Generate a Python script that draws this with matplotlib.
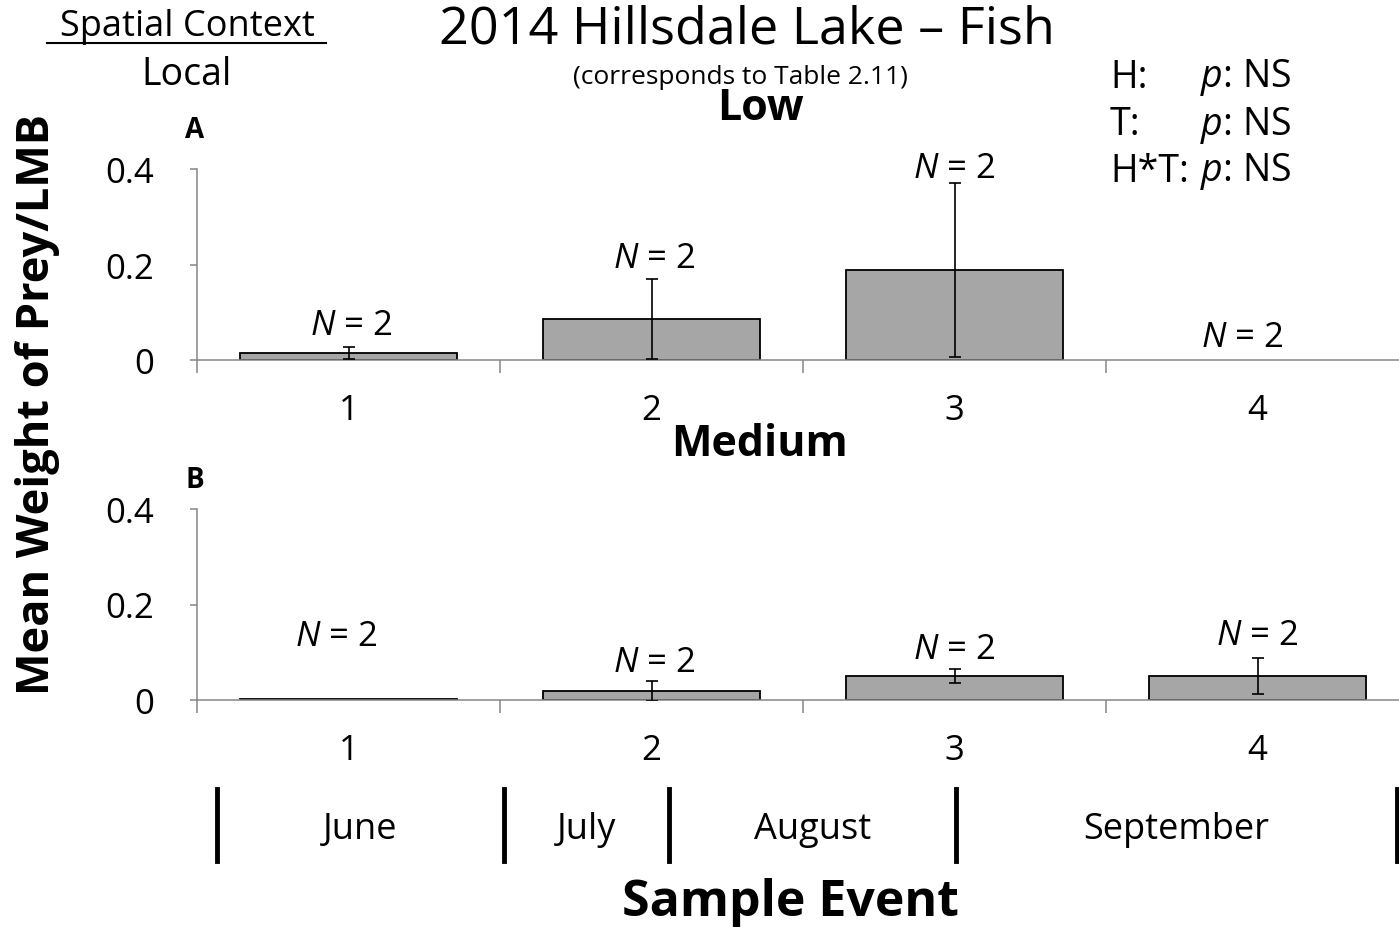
import matplotlib
matplotlib.use('Agg')
import matplotlib.pyplot as plt
from matplotlib.lines import Line2D

plt.rcParams['font.family'] = ['Open Sans', 'DejaVu Sans']
plt.rcParams['mathtext.fontset'] = 'custom'
plt.rcParams['mathtext.rm'] = 'Open Sans'
plt.rcParams['mathtext.it'] = 'Open Sans:italic'

# data
events = [1, 2, 3, 4]
low_mean = [0.015, 0.086, 0.188, 0.0]
low_err = [0.012, 0.084, 0.182, 0.0]
med_mean = [0.002, 0.019, 0.050, 0.050]
med_err = [0.0, 0.021, 0.015, 0.038]
n_low = [2, 2, 2, 2]
n_med = [2, 2, 2, 2]
months = ['June', 'July', 'August', 'September']
month_edges = [0.566, 1.513, 2.058, 3.005, 4.46]
stats = [('H:', 'NS'), ('T:', 'NS'), ('H*T:', 'NS')]

W, H = 1399, 928
fig = plt.figure(figsize=(W / 100, H / 100), dpi=100)


def fx(px):
    return px / W


def fy(py):
    return 1 - py / H


def panel(bottom_px, means, errs, ns, nlab_x, nlab_y):
    ax = fig.add_axes([fx(197), fy(bottom_px), fx(1212), 191 / H])
    lws = [1.3 if m > 0 else 0 for m in means]
    ax.bar(events, means, width=0.716, color='#a6a6a6', edgecolor='black', linewidth=lws, zorder=2)
    ex = [e for e, s in zip(events, errs) if s > 0]
    ey = [m for m, s in zip(means, errs) if s > 0]
    es = [s for s in errs if s > 0]
    ax.errorbar(ex, ey, yerr=es, fmt='none', ecolor='black', elinewidth=1.2,
                capsize=4, capthick=1.2, zorder=3)
    for n, x, y in zip(ns, nlab_x, nlab_y):
        ax.text(x, y, '$N$ = %d' % n, ha='center', va='center', fontsize=25)
    ax.set_xlim(0.5, 4.5)
    ax.set_ylim(0, 0.4)
    ax.set_yticks([0, 0.2, 0.4])
    ax.set_yticklabels(['0', '0.2', '0.4'], fontsize=25)
    ax.set_xticks([0.5, 1.5, 2.5, 3.5, 4.5])
    ax.set_xticklabels([])
    ax.set_xticks(events, minor=True)
    ax.set_xticklabels([str(e) for e in events], minor=True, fontsize=25)
    ax.tick_params(axis='x', which='major', direction='out', length=9, color='#868686', width=1.1)
    ax.tick_params(axis='x', which='minor', length=0, pad=24)
    ax.tick_params(axis='y', direction='out', length=5, color='#868686', width=1.1, pad=26)
    for s in ['top', 'right']:
        ax.spines[s].set_visible(False)
    for s in ['left', 'bottom']:
        ax.spines[s].set_color('#868686')
        ax.spines[s].set_linewidth(1.1)
    ax.patch.set_alpha(0)
    return ax


ax1 = panel(361, low_mean, low_err, n_low,
            [1.01, 2.01, 3.0, 3.95], [0.073, 0.214, 0.402, 0.048])
ax2 = panel(701, med_mean, med_err, n_med,
            [0.96, 2.01, 3.0, 4.0], [0.134, 0.080, 0.107, 0.136])

# month strip sharing the same x scale
axm = fig.add_axes([fx(197), fy(862), fx(1212), 72 / H])
axm.set_xlim(0.5, 4.5)
axm.set_ylim(0, 1)
axm.axis('off')
for e in month_edges:
    axm.plot([e, e], [0, 1], color='black', linewidth=3.5, clip_on=False)
for i, m in enumerate(months):
    axm.text((month_edges[i] + month_edges[i + 1]) / 2, 0.44, m, ha='center', va='center', fontsize=26)

# titles and labels
fig.text(fx(187), fy(27), 'Spatial Context', ha='center', va='center', fontsize=26)
fig.add_artist(Line2D([fx(47), fx(326)], [fy(44), fy(44)], color='black', linewidth=1.5))
fig.text(fx(187), fy(75), 'Local', ha='center', va='center', fontsize=27)
fig.text(fx(747), fy(30), '2014 Hillsdale Lake \u2013 Fish', ha='center', va='center', fontsize=37.5)
fig.text(fx(740), fy(77), '(corresponds to Table 2.11)', ha='center', va='center', fontsize=19)
fig.text(fx(760), fy(108), 'Low', ha='center', va='center', fontsize=31, fontweight='bold')
fig.text(fx(760), fy(445), 'Medium', ha='center', va='center', fontsize=31, fontweight='bold')
fig.text(fx(195), fy(130), 'A', ha='center', va='center', fontsize=20, fontweight='bold')
fig.text(fx(195), fy(481), 'B', ha='center', va='center', fontsize=20, fontweight='bold')
for i, (lab, val) in enumerate(stats):
    fig.text(fx(1110), fy(78 + 47 * i), lab, ha='left', va='center', fontsize=27)
    fig.text(fx(1200), fy(78 + 47 * i), '$p$: ' + val, ha='left', va='center', fontsize=27)
fig.text(fx(38), fy(405), 'Mean Weight of Prey/LMB', ha='center', va='center', rotation=90,
         fontsize=32.5, fontweight='bold')
fig.text(fx(790), fy(903), 'Sample Event', ha='center', va='center', fontsize=36, fontweight='bold')

fig.savefig('out.png', dpi=100)
